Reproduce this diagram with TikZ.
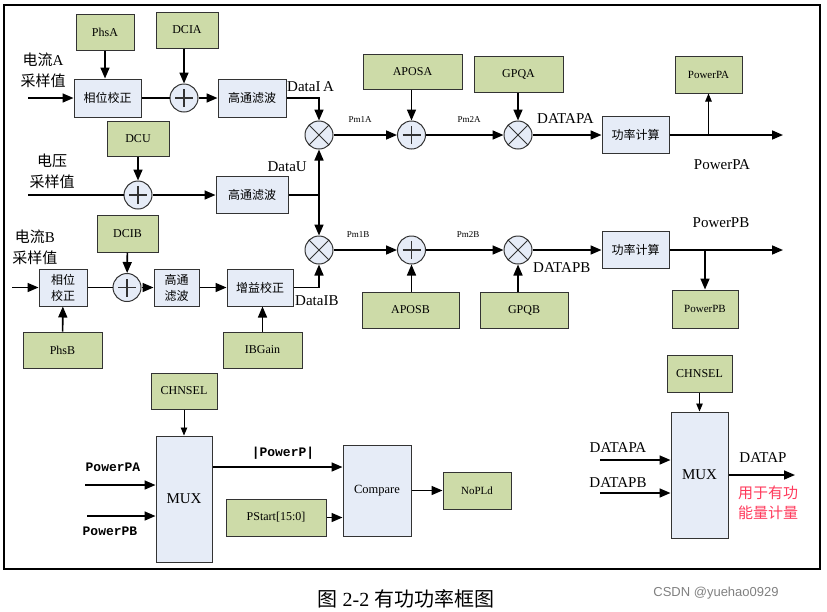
\documentclass[tikz,border=0pt]{standalone}
\usepackage{fontspec}
\setmainfont{Liberation Serif}
\newfontfamily\cjk{Noto Sans CJK SC}
\newfontfamily\monob{Liberation Mono}
\newfontfamily\wmark{Liberation Sans}
\usetikzlibrary{arrows.meta}
\definecolor{parfill}{HTML}{CDDBA8}
\definecolor{blkfill}{HTML}{E6ECF7}
\definecolor{edgegray}{HTML}{333333}
\definecolor{notered}{HTML}{FF3A5C}
\newcommand{\fsz}[1]{\fontsize{#1}{#1}\selectfont}

\begin{document}
\begin{tikzpicture}[x=1pt, y=-1pt, >={Triangle[length=11pt,width=9pt]},
    par/.style={draw=edgegray, fill=parfill, line width=1pt, inner sep=0pt, font=\fsz{12}},
    blk/.style={draw=edgegray, fill=blkfill, line width=1pt, inner sep=0pt, align=center,
        font=\cjk\fontsize{12}{16}\selectfont},
    sumc/.style={circle, draw=edgegray, fill=blkfill, line width=1pt, minimum size=28pt, inner sep=0pt,
        path picture={\draw[line width=1.1pt]
            ([xshift=-9pt]path picture bounding box.center) -- ([xshift=9pt]path picture bounding box.center)
            ([yshift=-9pt]path picture bounding box.center) -- ([yshift=9pt]path picture bounding box.center);}},
    mulc/.style={circle, draw=edgegray, fill=blkfill, line width=1pt, minimum size=28pt, inner sep=0pt,
        path picture={\draw[line width=0.9pt]
            (path picture bounding box.north west) -- (path picture bounding box.south east)
            (path picture bounding box.north east) -- (path picture bounding box.south west);}},
    sig/.style={->, line width=1.6pt},
    wire/.style={line width=1.6pt},
    thinsig/.style={-{Triangle[length=8pt,width=6.5pt]}, line width=0.9pt},
    lbl/.style={inner sep=0pt, font=\fsz{15}},
    pmlbl/.style={inner sep=0pt, font=\fsz{9}},
    inlbl/.style={inner sep=0pt, align=center, font=\cjk\fontsize{15}{21}\selectfont}]
    \useasboundingbox (0,0) rectangle (827,611);

    % frame
    \draw[line width=1.6pt] (4,5) rectangle (820,569);

    % current A channel
    \node[par, minimum width=58pt, minimum height=36pt] (phsA) at (105,32) {PhsA};
    \node[par, minimum width=62pt, minimum height=36pt] (dcia) at (187,30) {DCIA};
    \node[blk, minimum width=67pt, minimum height=38pt] (phcA) at (107.5,98) {相位校正};
    \node[sumc] (sumA) at (184,98) {};
    \node[blk, minimum width=68pt, minimum height=38pt] (hpfA) at (252,98) {高通滤波};
    \node[inlbl] (inlA) at (43,70) {电流{\rmfamily A}\\采样值};
    \coordinate (inA) at (28,98);
    \draw[sig] (inA) -- (phcA);
    \draw[sig] (phsA) -- (phsA |- phcA.north);
    \draw[wire] (phcA) -- (sumA);
    \draw[sig] (dcia.south -| sumA) -- (sumA);
    \draw[sig] (sumA) -- (hpfA);

    % voltage channel
    \node[par, minimum width=62pt, minimum height=35pt] (dcu) at (138,138.5) {DCU};
    \node[sumc] (sumU) at (138,195) {};
    \node[blk, minimum width=72pt, minimum height=37pt] (hpfU) at (252,195) {高通滤波};
    \node[inlbl] (inlU) at (52,171) {电压\\采样值};
    \coordinate (inU) at (28,195);
    \draw[wire] (inU) -- (sumU);
    \draw[sig] (dcu) -- (sumU);
    \draw[sig] (sumU) -- (hpfU);

    % current B channel
    \node[par, minimum width=61pt, minimum height=37pt] (dcib) at (127.5,233.5) {DCIB};
    \node[blk, minimum width=48pt, minimum height=37pt] (phcB) at (63,287.5) {相位\\校正};
    \node[sumc] (sumB) at (127,287.5) {};
    \node[blk, minimum width=45pt, minimum height=37pt] (hpfB) at (176.5,287.5) {高通\\滤波};
    \node[blk, minimum width=66pt, minimum height=37pt] (gain) at (260,287.5) {增益校正};
    \node[par, minimum width=79pt, minimum height=36pt] (phsB) at (62.5,350) {PhsB};
    \node[par, minimum width=79pt, minimum height=36pt] (ibg) at (262.5,350) {IBGain};
    \node[inlbl] (inlB) at (35,247.5) {电流{\rmfamily B}\\采样值};
    \coordinate (inB) at (12,287.5);
    \draw[sig] (inB) -- (phcB);
    \draw[sig] (phsB) -- (phcB);
    \draw[wire] (phcB) -- (sumB);
    \draw[sig] (dcib) -- (sumB);
    \draw[sig] (sumB) -- (hpfB);
    \draw[sig] (hpfB) -- (gain);
    \draw[sig] (ibg) -- (ibg |- gain.south);

    % multipliers, offset and gain
    \foreach \r/\y in {A/135,B/250} {
        \node[mulc] (mul\r) at (319,\y) {};
        \node[sumc] (sum\r2) at (411.5,\y) {};
        \node[mulc] (mul\r2) at (518,\y) {};
        \node[blk, minimum width=67pt, minimum height=37pt] (pow\r) at (635.5,\y) {功率计算};
        \coordinate (out\r) at (783,\y);
        \draw[sig] (mul\r) -- (sum\r2);
        \draw[sig] (sum\r2) -- (mul\r2);
        \draw[sig] (mul\r2) -- (pow\r);
        \draw[sig] (pow\r) -- (out\r);
    }
    \node[par, minimum width=99pt, minimum height=35pt] (aposa) at (412.5,71.5) {APOSA};
    \node[par, minimum width=89pt, minimum height=36pt] (gpqa) at (518.5,74) {GPQA};
    \node[par, minimum width=97pt, minimum height=36pt] (aposb) at (410.5,310) {APOSB};
    \node[par, minimum width=88pt, minimum height=36pt] (gpqb) at (524,310) {GPQB};
    \node[par, minimum width=67pt, minimum height=37pt, font=\fsz{11}] (ppa) at (708.5,74.5) {PowerPA};
    \node[par, minimum width=66pt, minimum height=38pt, font=\fsz{11}] (ppb) at (705,309) {PowerPB};
    \draw[sig] (hpfA) -| (mulA);
    \coordinate (jU) at (mulA |- hpfU);
    \draw[wire] (hpfU) -- (jU);
    \draw[sig] (jU) -- (mulA);
    \draw[sig] (jU) -- (mulB);
    \draw[sig] (gain) -| (mulB);
    \draw[sig] (aposa.south -| sumA2) -- (sumA2);
    \draw[sig] (gpqa.south -| mulA2) -- (mulA2);
    \draw[sig] (aposb.north -| sumB2) -- (sumB2);
    \draw[sig] (gpqb.north -| mulB2) -- (mulB2);
    \coordinate (brA) at (ppa |- powA);
    \coordinate (brB) at (ppb |- powB);
    \draw[thinsig] (brA) -- (ppa);
    \draw[sig] (brB) -- (ppb);

    % signal names
    \node[lbl, anchor=west] (lIA) at (287,87) {DataI\,A};
    \node[lbl, anchor=east] (lU) at (307,167) {DataU};
    \node[lbl, anchor=west] (lIB) at (295,301) {DataIB};
    \node[pmlbl] (lp1a) at (360,120) {Pm1A};
    \node[pmlbl] (lp2a) at (469,120) {Pm2A};
    \node[pmlbl] (lp1b) at (358,235) {Pm1B};
    \node[pmlbl] (lp2b) at (468,235) {Pm2B};
    \node[lbl, anchor=west] (lpa) at (537,119) {DATAPA};
    \node[lbl, anchor=west] (lpb) at (533,268) {DATAPB};
    \node[lbl] (lppa) at (722,165) {PowerPA};
    \node[lbl] (lppb) at (721,223) {PowerPB};

    % no-load detection
    \node[par, minimum width=66pt, minimum height=36pt] (chn1) at (184,391) {CHNSEL};
    \node[blk, minimum width=56pt, minimum height=126pt, font=\fsz{15}] (mux1) at (184,499) {MUX};
    \node[blk, minimum width=68pt, minimum height=91pt, font=\fsz{12.5}] (cmp) at (377,490.5) {Compare};
    \node[par, minimum width=100pt, minimum height=37pt] (pst) at (276,517.5) {PStart[15:0]};
    \node[par, minimum width=68pt, minimum height=37pt, font=\fsz{11}] (nopld) at (477,490.5) {NoPLd};
    \node[inner sep=0pt, font=\monob\bfseries\fsz{13}] (lpwa) at (113,467) {PowerPA};
    \node[inner sep=0pt, font=\monob\bfseries\fsz{13}] (lpwb) at (110,531) {PowerPB};
    \node[inner sep=0pt, font=\monob\bfseries\fsz{13}] (labs) at (283,453) {|PowerP|};
    \coordinate (inPA) at (85,485);
    \coordinate (inPB) at (87,516);
    \draw[thinsig] (chn1) -- (mux1);
    \draw[sig] (inPA) -- (inPA -| mux1.west);
    \draw[sig] (inPB) -- (inPB -| mux1.west);
    \draw[sig] ([yshift=32pt]mux1.east) -- ([yshift=32pt]mux1.east -| cmp.west);
    \draw[sig] (pst) -- (pst -| cmp.west);
    \draw[sig] (cmp) -- (nopld);

    % energy channel select
    \node[par, minimum width=65pt, minimum height=37pt] (chn2) at (699.5,373.5) {CHNSEL};
    \node[blk, minimum width=57pt, minimum height=126pt, font=\fsz{15}] (mux2) at (699.5,475) {MUX};
    \node[lbl] (lda) at (618,448) {DATAPA};
    \node[lbl] (ldb) at (618,483) {DATAPB};
    \node[lbl] (ldp) at (763,458) {DATAP};
    \node[inner sep=0pt, align=center, text=notered, font=\cjk\fontsize{15}{20}\selectfont] (note) at (768,503) {用于有功\\能量计量};
    \coordinate (inDA) at (600,460);
    \coordinate (inDB) at (600,493);
    \coordinate (outP) at (795,475);
    \draw[thinsig] (chn2) -- (mux2);
    \draw[sig] (inDA) -- (inDA -| mux2.west);
    \draw[sig] (inDB) -- (inDB -| mux2.west);
    \draw[sig] (mux2) -- (outP);

    % caption
    \node[inner sep=0pt, font=\fsz{20}] (cap) at (406,599) {{\cjk 图} 2-2 {\cjk 有功功率框图}};
    \node[inner sep=0pt, text=gray, font=\wmark\fsz{13}] (wm) at (716,593) {CSDN @yuehao0929};
\end{tikzpicture}
\end{document}
